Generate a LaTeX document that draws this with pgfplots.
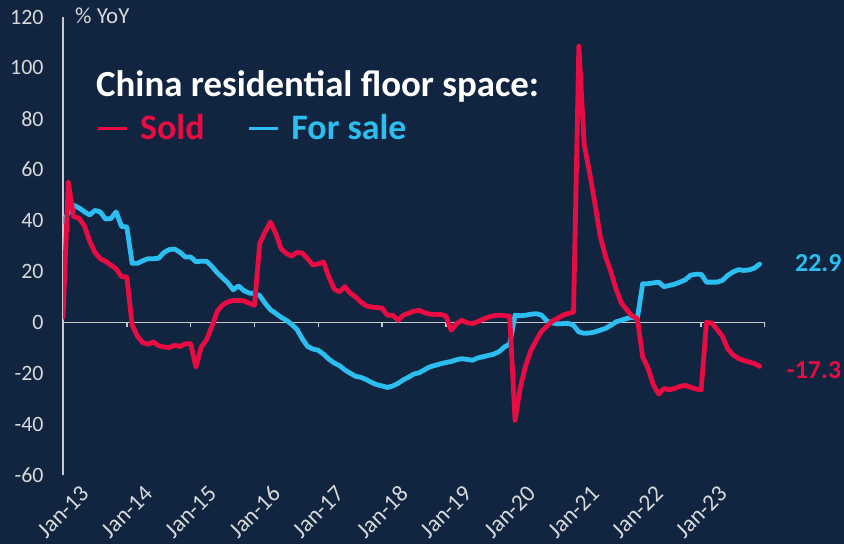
\documentclass[border=0pt]{standalone}
\usepackage{pgfplots}
\pgfplotsset{compat=1.18}
\usepackage{fontspec}
\setmainfont{Carlito}
\definecolor{bg}{RGB}{17,37,64}
\definecolor{soldc}{RGB}{232,12,66}
\definecolor{salec}{RGB}{44,190,240}
\definecolor{axc}{RGB}{200,200,200}
\definecolor{lblc}{RGB}{217,217,217}
\pgfplotstableread{
m v
0 2
1 55
2 41.5
3 41
4 38
5 32
6 27.5
7 25
8 24
9 22.5
10 21
11 18
12 17.8
13 -1
14 -5.5
15 -8
16 -8.6
17 -7.7
18 -9.2
19 -9.7
20 -9.9
21 -9
22 -9.5
23 -8.4
24 -8.4
25 -17.6
26 -9.7
27 -6.8
28 -1.6
29 4.3
30 6.8
31 8.0
32 8.6
33 8.6
34 8.5
35 7.5
36 6.7
37 31
38 35.5
39 39.4
40 35
41 29
42 27
43 26
44 27.5
45 27.2
46 25
47 22.5
48 23
49 23.7
50 17.8
51 13
52 12
53 14
54 11.5
55 10
56 8
57 6.5
58 6
59 5.8
60 5.6
61 2.8
62 2.8
63 0.8
64 2.8
65 3.6
66 4.4
67 4.7
68 3.8
69 3.2
70 3.1
71 3.1
72 2.5
73 -3.1
74 -0.5
75 0.8
76 -0.2
77 -0.5
78 0.3
79 1.2
80 2.1
81 2.6
82 2.8
83 2.6
84 2.4
85 -38.5
86 -25.5
87 -17
88 -11
89 -7
90 -3.5
91 -1.5
92 0.5
93 1.5
94 2.8
95 3.5
96 4
97 108.5
98 70
99 59
100 47
101 34
102 26
103 20
104 13
105 7.5
106 5
107 2.5
108 1.5
109 -13.6
110 -18
111 -24.5
112 -28.2
113 -26
114 -26.5
115 -26
116 -25.2
117 -24.8
118 -25.5
119 -26.2
120 -26.5
121 0
122 -0.3
123 -2.8
124 -5.5
125 -10.5
126 -12.8
127 -14.2
128 -15
129 -15.6
130 -16.2
131 -17.3
}\soldtable
\pgfplotstableread{
m v
0 39.5
1 43
2 46
3 45
4 43.5
5 42.2
6 44
7 43.4
8 40.6
9 40.8
10 43.4
11 37.7
12 37.5
13 23.2
14 23.2
15 24.2
16 25
17 25
18 25.2
19 27.5
20 28.6
21 28.8
22 27.5
23 25.7
24 25.7
25 23.8
26 24
27 24
28 22
29 19.5
30 17.5
31 15.5
32 12.8
33 14.3
34 12.5
35 11.5
36 11.3
37 10.5
38 7.5
39 5
40 3.5
41 2
42 0.8
43 -0.8
44 -2.8
45 -6.5
46 -9.5
47 -10.5
48 -11
49 -12.5
50 -14.5
51 -16
52 -17
53 -18.7
54 -20
55 -21.2
56 -21.6
57 -22.5
58 -23.6
59 -24.5
60 -25
61 -25.6
62 -25
63 -24
64 -22.6
65 -21.5
66 -20.3
67 -19.8
68 -18.6
69 -17.5
70 -16.9
71 -16.3
72 -15.8
73 -15.4
74 -14.7
75 -14.3
76 -14.6
77 -14.9
78 -14
79 -13.5
80 -13
81 -12.5
82 -11.5
83 -9.7
84 -8.5
85 2.8
86 2.6
87 2.8
88 3.2
89 3.4
90 2.8
91 0.5
92 -0.2
93 -0.6
94 -0.5
95 -0.4
96 -1.2
97 -3.8
98 -4.3
99 -4.2
100 -3.8
101 -3.1
102 -2.4
103 -1.2
104 0.2
105 0.8
106 1.5
107 2
108 1.5
109 15.2
110 15.2
111 15.5
112 15.8
113 14
114 14.5
115 15
116 15.8
117 16.7
118 18.5
119 18.9
120 18.9
121 15.8
122 15.8
123 15.8
124 16.5
125 18.5
126 19.8
127 20.7
128 20.4
129 20.6
130 21.3
131 22.9
}\saletable
\begin{document}
\begin{tikzpicture}
\fill[bg] (0,0) rectangle (844bp,544bp);
\begin{axis}[
  at={(63bp,69bp)}, anchor=south west,
  scale only axis, width=702bp, height=458bp,
  xmin=0, xmax=132, ymin=-60, ymax=120,
  axis lines*=left,
  x axis line style={draw=none},
  y axis line style={draw=axc, line width=1.5bp},
  xtick={0,12,...,120},
  xticklabels={Jan-13,Jan-14,Jan-15,Jan-16,Jan-17,Jan-18,Jan-19,Jan-20,Jan-21,Jan-22,Jan-23},
  ytick={-60,-40,...,120},
  yticklabels={-60,-40,-20,0,20,40,60,80,100,120},
  tick style={draw=none},
  ticklabel style={font=\fontsize{22}{26}\selectfont, text=lblc},
  yticklabel style={xshift=-16bp},
  xticklabel style={font=\fontsize{23.5}{26}\selectfont, rotate=45, anchor=east, inner sep=0pt, xshift=5bp, yshift=-26bp},
  legend style={at={(0.047,0.7576)}, anchor=west, draw=none, fill=none,
    font=\fontsize{36}{40}\selectfont\bfseries, inner sep=0pt,
    /tikz/every odd column/.append style={column sep=10bp},
    /tikz/every even column/.append style={column sep=41bp}},
  legend columns=2,
  legend image code/.code={\draw[#1, line cap=butt] (0bp,0bp) -- (29bp,0bp);},
]
\draw[axc, line width=1.5bp] (axis cs:0,0) -- (axis cs:132,0);
\pgfplotsinvokeforeach{0,12,...,132}{\draw[axc, line width=1.5bp] (axis cs:#1,0) -- (axis cs:#1,-2);}
\addlegendimage{soldc, line width=3bp}
\addlegendentry{\textcolor{soldc}{Sold}}
\addlegendimage{salec, line width=3bp}
\addlegendentry{\textcolor{salec}{For sale}}
\addplot[forget plot, salec, line width=4.8bp, line join=round, line cap=round] table[x=m,y=v] {\saletable};
\addplot[forget plot, soldc, line width=4.8bp, line join=round, line cap=round] table[x=m,y=v] {\soldtable};
\end{axis}
\node[anchor=base west, inner sep=0pt, text=white, font=\fontsize{37}{40}\selectfont\bfseries] at (96bp,447.3bp) {China residential floor space:};
\node[anchor=base west, inner sep=0pt, text=lblc, font=\fontsize{23}{26}\selectfont] at (75bp,520bp) {\% YoY};
\node[anchor=base west, inner sep=0pt, text=salec, font=\fontsize{26}{30}\selectfont\bfseries] at (795bp,272.3bp) {22.9};
\node[anchor=base west, inner sep=0pt, text=soldc, font=\fontsize{26}{30}\selectfont\bfseries] at (786.7bp,165.7bp) {-17.3};
\pgfresetboundingbox
\path[use as bounding box] (0,0) rectangle (844bp,544bp);
\end{tikzpicture}
\end{document}
